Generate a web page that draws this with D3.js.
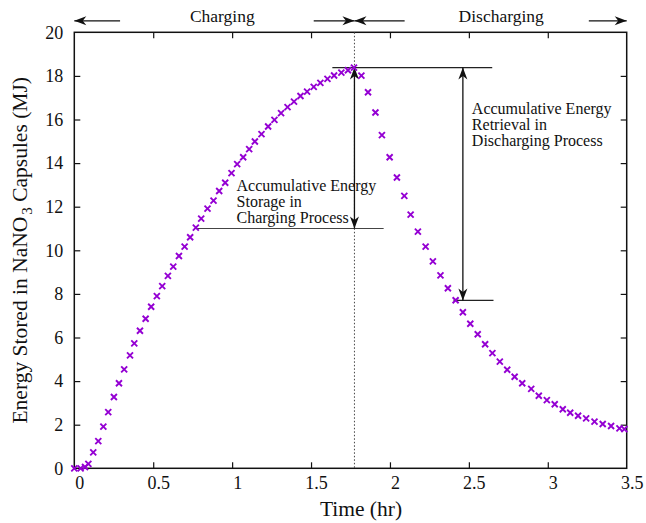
<!DOCTYPE html>
<html>
<head>
<meta charset="utf-8">
<script src="https://cdn.jsdelivr.net/npm/d3@7"></script>
<style>
  html, body { margin: 0; padding: 0; background: #fff; }
  svg { display: block; }
  text { font-family: "Liberation Serif", "Times New Roman", Times, serif; fill: #111; }
</style>
</head>
<body>
<svg id="chart" width="646" height="523"></svg>
<script>
// Charging phase: time (hr) and stored energy (MJ)
const chargeTime = [0, 0.04, 0.068, 0.089, 0.12, 0.152, 0.184, 0.215, 0.251, 0.283,
  0.316, 0.353, 0.38, 0.416, 0.452, 0.487, 0.523, 0.557, 0.593, 0.627,
  0.663, 0.699, 0.734, 0.77, 0.804, 0.844, 0.882, 0.918, 0.956, 0.996,
  1.032, 1.07, 1.108, 1.144, 1.186, 1.228, 1.268, 1.31, 1.351, 1.392,
  1.433, 1.475, 1.517, 1.559, 1.604, 1.646, 1.692, 1.734, 1.772];
const chargeEnergy = [0, 0, 0.06, 0.2, 0.73, 1.25, 1.91, 2.58, 3.27, 3.9,
  4.54, 5.18, 5.73, 6.31, 6.86, 7.41, 7.9, 8.36, 8.83, 9.25,
  9.74, 10.17, 10.6, 11.04, 11.45, 11.91, 12.28, 12.72, 13.1, 13.54,
  13.95, 14.27, 14.64, 14.99, 15.33, 15.68, 15.98, 16.29, 16.57, 16.82,
  17.08, 17.28, 17.5, 17.68, 17.86, 18.02, 18.15, 18.26, 18.38];

// Discharging phase
const dischargeTime = [1.819, 1.861, 1.908, 1.949, 1.998, 2.044, 2.091, 2.131, 2.177, 2.226,
  2.272, 2.32, 2.367, 2.416, 2.462, 2.509, 2.556, 2.603, 2.649, 2.696,
  2.743, 2.79, 2.838, 2.895, 2.943, 2.994, 3.044, 3.095, 3.142, 3.192,
  3.243, 3.296, 3.348, 3.401, 3.454, 3.485];
const dischargeEnergy = [18.01, 17.25, 16.32, 15.28, 14.27, 13.34, 12.5, 11.64, 10.86, 10.17,
  9.49, 8.85, 8.26, 7.71, 7.16, 6.63, 6.15, 5.69, 5.28, 4.89,
  4.52, 4.2, 3.9, 3.64, 3.33, 3.13, 2.94, 2.71, 2.55, 2.41,
  2.29, 2.14, 2.03, 1.94, 1.83, 1.8];

const xTicks = [0, 0.5, 1, 1.5, 2, 2.5, 3, 3.5];
const yTicks = [0, 2, 4, 6, 8, 10, 12, 14, 16, 18, 20];

// Annotation levels (hr / MJ)
const switchTime = 1.775;          // end of charging
const storageLow = 11.0;           // level where storage arrow ends
const retrievalLow = 7.7;          // level where retrieval arrow ends
const retrievalTime = 2.462;

const svg = d3.select("#chart");
const x = d3.scaleLinear().domain([0, 3.5]).range([74.3, 626.7]);
const y = d3.scaleLinear().domain([0, 20]).range([468.3, 32.3]);
const peak = d3.max(chargeEnergy);

// Frame
svg.append("rect")
  .attr("x", x(0)).attr("y", y(20))
  .attr("width", x(3.5) - x(0)).attr("height", y(0) - y(20))
  .attr("fill", "none").attr("stroke", "#111").attr("stroke-width", 1.5);

const tickLen = 6;
const fmt = d => String(d);

// Bottom axis (ticks inward)
const gx = svg.append("g").attr("transform", `translate(0,${y(0)})`)
  .call(d3.axisBottom(x).tickValues(xTicks).tickFormat(fmt).tickSizeInner(-tickLen).tickSizeOuter(0).tickPadding(8));
// Top axis mirror
const gxt = svg.append("g").attr("transform", `translate(0,${y(20)})`)
  .call(d3.axisTop(x).tickValues(xTicks).tickFormat("").tickSizeInner(-tickLen).tickSizeOuter(0));
// Left axis
const gy = svg.append("g").attr("transform", `translate(${x(0)},0)`)
  .call(d3.axisLeft(y).tickValues(yTicks).tickFormat(fmt).tickSizeInner(-tickLen).tickSizeOuter(0).tickPadding(11));
// Right axis mirror
const gyr = svg.append("g").attr("transform", `translate(${x(3.5)},0)`)
  .call(d3.axisRight(y).tickValues(yTicks).tickFormat("").tickSizeInner(-tickLen).tickSizeOuter(0));

[gx, gxt, gy, gyr].forEach(g => {
  g.select(".domain").remove();
  g.selectAll(".tick line").attr("stroke", "#111").attr("stroke-width", 1.2);
  g.selectAll("text").attr("font-size", 18).attr("font-family", "Liberation Serif, Times New Roman, serif").attr("fill", "#111");
});
gx.selectAll("text").attr("dx", 5);
// Ticks at the very edges coincide with the frame
gxt.selectAll(".tick").filter(d => d === 0 || d === 3.5).select("line").remove();
gx.selectAll(".tick").filter(d => d === 0 || d === 3.5).select("line").remove();
gy.selectAll(".tick").filter(d => d === 0 || d === 20).select("line").remove();
gyr.selectAll(".tick").filter(d => d === 0 || d === 20).select("line").remove();

// Axis titles
svg.append("text")
  .attr("x", 361).attr("y", 516)
  .attr("text-anchor", "middle").attr("font-size", 21.5)
  .text("Time (hr)");

const yt = svg.append("text")
  .attr("transform", `translate(27,${(y(0) + y(20)) / 2}) rotate(-90)`)
  .attr("text-anchor", "middle").attr("font-size", 21.5);
yt.append("tspan").text("Energy Stored in NaNO");
yt.append("tspan").attr("dx", 2).attr("dy", 5).attr("font-size", 15).text("3");
yt.append("tspan").attr("dy", -5).text(" Capsules (MJ)");

// Dotted separator at the switch from charging to discharging
svg.append("line")
  .attr("x1", x(switchTime)).attr("x2", x(switchTime))
  .attr("y1", y(20)).attr("y2", y(0))
  .attr("stroke", "#444").attr("stroke-width", 1).attr("stroke-dasharray", "1.5,2");

// Arrow helpers
function head(tx, ty, fx, fy) {
  const L = 12, W = 4.5, N = 3.5;
  const dx = tx - fx, dy = ty - fy, len = Math.hypot(dx, dy);
  const ux = dx / len, uy = dy / len, nx = -uy, ny = ux;
  const bx = tx - L * ux, by = ty - L * uy;
  const mx = tx - (L - N) * ux, my = ty - (L - N) * uy;
  svg.append("path")
    .attr("d", `M${tx},${ty}L${bx + W * nx},${by + W * ny}L${mx},${my}L${bx - W * nx},${by - W * ny}Z`)
    .attr("fill", "#111");
}
function segment(x1, y1, x2, y2, color, w) {
  svg.append("line").attr("x1", x1).attr("y1", y1).attr("x2", x2).attr("y2", y2)
    .attr("stroke", color || "#111").attr("stroke-width", w || 1.3);
}
function arrow(x1, y1, x2, y2) { segment(x1, y1, x2, y2); head(x2, y2, x1, y1); }
function doubleArrow(x1, y1, x2, y2) { segment(x1, y1, x2, y2); head(x2, y2, x1, y1); head(x1, y1, x2, y2); }

// Phase arrows above the frame
const topY = y(20) - 11.5;
arrow(x(0.29), topY, x(0), topY);
arrow(x(1.517), topY, x(switchTime), topY);
arrow(x(2.093), topY, x(switchTime), topY);
arrow(x(3.26), topY, x(3.5), topY);
svg.append("text").attr("x", x(0.938)).attr("y", 22).attr("text-anchor", "middle").attr("font-size", 17.5).text("Charging");
svg.append("text").attr("x", x(2.705)).attr("y", 22).attr("text-anchor", "middle").attr("font-size", 17.5).text("Discharging");

// Reference levels
segment(x(1.635), y(peak), x(2.648), y(peak), "#222", 1.2);
segment(x(0.771), y(storageLow), x(1.96), y(storageLow), "#444", 1.2);
segment(x(2.403), y(retrievalLow), x(2.656), y(retrievalLow), "#222", 1.2);

// Energy spans
doubleArrow(x(switchTime), y(peak), x(switchTime), y(storageLow));
doubleArrow(x(retrievalTime), y(peak), x(retrievalTime), y(retrievalLow));

// Annotation text blocks
function block(px, py, lines) {
  const t = svg.append("text").attr("x", px).attr("y", py).attr("font-size", 16);
  lines.forEach((s, i) => t.append("tspan").attr("x", px).attr("dy", i === 0 ? 0 : 15.8).text(s));
}
block(x(1.028), y(12.7), ["Accumulative Energy", "Storage in", "Charging Process"]);
block(x(2.519), y(16.23), ["Accumulative Energy", "Retrieval in", "Discharging Process"]);

// Data markers
const pts = chargeTime.map((t, i) => ({ t, e: chargeEnergy[i] }))
  .concat(dischargeTime.map((t, i) => ({ t, e: dischargeEnergy[i] })));
const s = 3;
svg.append("g").selectAll("path").data(pts).join("path")
  .attr("d", d => `M${x(d.t) - s},${y(d.e) - s}L${x(d.t) + s},${y(d.e) + s}M${x(d.t) - s},${y(d.e) + s}L${x(d.t) + s},${y(d.e) - s}`)
  .attr("stroke", "#9400d3").attr("stroke-width", 1.9).attr("fill", "none");
</script>
</body>
</html>
